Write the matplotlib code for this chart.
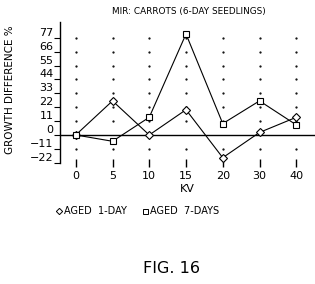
import numpy as np
import matplotlib
matplotlib.use("Agg")
import matplotlib.pyplot as plt
from matplotlib.lines import Line2D

# data
kv_labels = ["0", "5", "10", "15", "20", "30", "40"]
aged_1_day = [0, 27, 0, 20, -18, 2, 14]
aged_7_days = [0, -5, 14, 80, 9, 27, 8]
y_ticks = [-22, -11, 0, 11, 22, 33, 44, 55, 66, 77]

LINE_WIDTH = 0.8

plt.rcParams["font.family"] = "DejaVu Sans"

fig = plt.figure(figsize=(3.15, 2.84), dpi=100)
ax = fig.add_axes([0.1915, 0.427, 0.8085, 0.4955])

xs = np.arange(len(kv_labels))

# dotted grid: one small dot per x position and y tick level
for yv in y_ticks:
    if yv in (0, -22):
        continue
    ax.plot(xs, [yv] * len(xs), linestyle="none", marker=".",
            markersize=1.2, color="black")

ax.axhline(0, color="black", linewidth=1.0, zorder=1)

ax.plot(xs, aged_1_day, color="black", linewidth=LINE_WIDTH, marker="D",
        markersize=3.8, markerfacecolor="white", markeredgewidth=0.8,
        zorder=3)
ax.plot(xs, aged_7_days, color="black", linewidth=LINE_WIDTH, marker="s",
        markersize=4.0, markerfacecolor="white", markeredgewidth=0.8,
        zorder=3)

ax.set_xlim(-0.42, 6.51)
ax.set_ylim(-22, 89.5)

ax.spines["top"].set_visible(False)
ax.spines["right"].set_visible(False)
ax.spines["bottom"].set_visible(False)
ax.spines["left"].set_linewidth(1.0)

ax.set_xticks(xs)
ax.set_xticklabels(kv_labels, fontsize=8)
ax.tick_params(axis="x", direction="inout", length=6, width=1.0, pad=3)

ax.set_yticks(y_ticks)
ax.set_yticklabels([str(v).replace("-", "\u2212") for v in y_ticks],
                   fontsize=8, va="bottom")
ax.tick_params(axis="y", direction="out", length=4.5, width=0.8, pad=0.5)

ax.set_xlabel("KV", fontsize=8, labelpad=2)

fig.text(0.6, 0.958, "MIR: CARROTS (6-DAY SEEDLINGS)", fontsize=6.4,
         ha="center", va="center")
fig.text(0.032, 0.685, "GROWTH DIFFERENCE %", fontsize=7.5, rotation=90,
         ha="center", va="center")

handles = [
    Line2D([], [], linestyle="none", marker="D", markersize=3.2,
           markerfacecolor="white", markeredgecolor="black",
           markeredgewidth=0.7),
    Line2D([], [], linestyle="none", marker="s", markersize=3.6,
           markerfacecolor="white", markeredgecolor="black",
           markeredgewidth=0.7),
]
fig.legend(handles, ["AGED  1-DAY", "AGED  7-DAYS"], loc="center left",
           bbox_to_anchor=(0.15, 0.257), ncol=2, frameon=False,
           fontsize=7, handlelength=0.6, handletextpad=0.2,
           columnspacing=1.6)

fig.text(0.543, 0.053, "FIG. 16", fontsize=11.5, ha="center", va="center")

fig.savefig("out.png", dpi=100)
